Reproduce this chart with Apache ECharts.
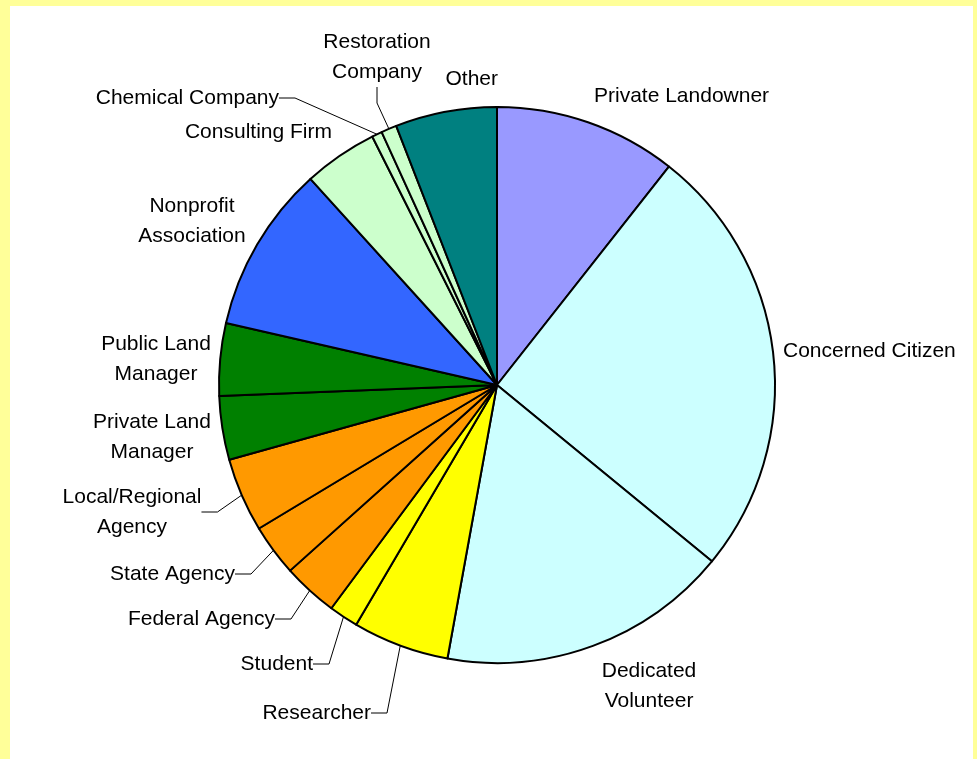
<!DOCTYPE html>
<html>
<head>
<meta charset="utf-8">
<script src="https://cdn.jsdelivr.net/npm/echarts@6/dist/echarts.min.js"></script>
<style>
  html, body { margin: 0; padding: 0; }
  #frame { position: absolute; left: 0; top: 0; width: 977px; height: 759px; background: #FFFF99; }
  #chart { position: absolute; left: 10px; top: 6px; width: 963px; height: 753px; background: #FFFFFF; }
</style>
</head>
<body>
<div id="frame"><div id="chart"></div></div>
<script>
// Categories (label text as displayed)
const categories = [
  'Private Landowner', 'Concerned Citizen', 'Dedicated\nVolunteer', 'Researcher', 'Student',
  'Federal Agency', 'State Agency', 'Local/Regional\nAgency', 'Private Land\nManager',
  'Public Land\nManager', 'Nonprofit\nAssociation', 'Consulting Firm', 'Chemical Company',
  'Restoration\nCompany', 'Other'
];
// Share of respondents (%)
const values = [10.6, 25.3, 16.9, 5.6, 1.7, 3.2, 3.0, 4.3, 3.7, 4.2, 9.7, 4.3, 0.6, 0.9, 5.9];
const colors = [
  '#9999FF', '#CCFFFF', '#CCFFFF', '#FFFF00', '#FFFF00',
  '#FF9900', '#FF9900', '#FF9900', '#008000', '#008000',
  '#3366FF', '#CCFFCC', '#CCFFCC', '#CCFFCC', '#008080'
];
const hasLeader = [false, false, false, true, true, true, true, true, false, false, false, false, true, true, false];

// Label anchor positions (page pixels) and alignment
const labelPos = [
  [594, 96, 'left'], [783, 351, 'left'], [649, 686, 'center'], [371, 713, 'right'], [313, 664, 'right'],
  [275, 619, 'right'], [235, 574, 'right'], [132, 512, 'center'], [152, 437, 'center'],
  [156, 359, 'center'], [192, 221, 'center'], [332, 132, 'right'], [279, 98, 'right'],
  [377, 57, 'center'], [498, 79, 'right']
];
const OFFX = 10, OFFY = 6;

const chart = echarts.init(document.getElementById('chart'), null, { renderer: 'canvas' });
chart.setOption({
  animation: false,
  backgroundColor: '#FFFFFF',
  series: [{
    type: 'pie',
    center: [497 - OFFX, 385 - OFFY],
    radius: 278,
    startAngle: 90,
    clockwise: true,
    avoidLabelOverlap: false,
    itemStyle: { borderColor: '#000000', borderWidth: 2 },
    label: {
      show: true,
      position: 'outside',
      color: '#000000',
      fontFamily: 'Liberation Sans, Arial, sans-serif',
      fontSize: 21,
      lineHeight: 30
    },
    labelLine: { show: true, length: 10, length2: 16, lineStyle: { color: '#000000', width: 1 } },
    labelLayout: function (p) {
      const pos = labelPos[p.dataIndex];
      return { x: pos[0] - OFFX, y: pos[1] - OFFY, align: pos[2], verticalAlign: 'middle' };
    },
    emphasis: { disabled: true },
    data: categories.map((c, i) => ({
      name: c,
      value: values[i],
      itemStyle: { color: colors[i] },
      labelLine: { show: hasLeader[i] }
    }))
  }]
});
</script>
</body>
</html>
